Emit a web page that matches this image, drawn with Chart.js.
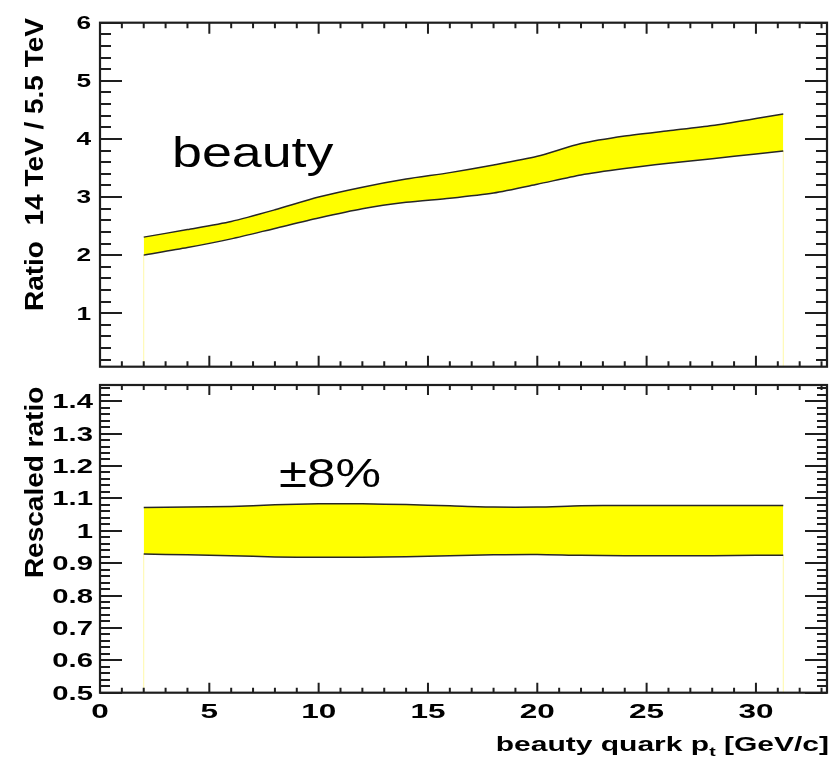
<!DOCTYPE html>
<html>
<head>
<meta charset="utf-8">
<title>beauty ratio 14 TeV / 5.5 TeV</title>
<script src="https://cdn.jsdelivr.net/npm/chart.js@4.4.0/dist/chart.umd.min.js"></script>
<style>
  html, body { margin: 0; padding: 0; background: #fff; }
  #wrap { position: relative; width: 835px; height: 759px; overflow: hidden; }
  #wrap canvas { position: absolute; left: 0; }
  #topPad { top: 0; }
  #bottomPad { top: 380px; }
</style>
</head>
<body>
<div id="wrap">
  <canvas id="topPad" width="835" height="380"></canvas>
  <canvas id="bottomPad" width="835" height="379"></canvas>
</div>
<script>
// pt values (GeV/c) where the band edges are sampled
const ptPoints = [2, 4, 6, 8, 10, 12, 14, 16, 18, 20, 22, 24, 26, 28, 30, 31.25];

// ratio 14 TeV / 5.5 TeV, lower and upper edge of the band
const ratioLow  = [2.00, 2.13, 2.28, 2.46, 2.64, 2.80, 2.91, 2.98, 3.07, 3.22, 3.38, 3.49, 3.58, 3.66, 3.74, 3.79];
const ratioHigh = [2.31, 2.44, 2.58, 2.78, 3.00, 3.17, 3.31, 3.42, 3.55, 3.70, 3.92, 4.05, 4.14, 4.23, 4.35, 4.43];

// same band divided by its centre
const rescaledLow  = [0.928, 0.926, 0.923, 0.919, 0.918, 0.918, 0.920, 0.923, 0.926, 0.927, 0.924, 0.923, 0.923, 0.923, 0.924, 0.924];
const rescaledHigh = [1.072, 1.073, 1.075, 1.080, 1.083, 1.083, 1.081, 1.077, 1.073, 1.073, 1.077, 1.078, 1.078, 1.078, 1.078, 1.078];

// axis labels
const xTicks = [0, 5, 10, 15, 20, 25, 30];
const ratioTicks = [1, 2, 3, 4, 5, 6];
const rescaledTicks = [0.5, 0.6, 0.7, 0.8, 0.9, 1, 1.1, 1.2, 1.3, 1.4];

const X_MAX = 33.25;
const FONT = '"Liberation Sans", Arial, Helvetica, sans-serif';
const EDGE = '#262626';
const BAND = '#ffff00';

// draw text squeezed/stretched along its own direction
function stretchText(ctx, text, x, y, o) {
  ctx.save();
  ctx.translate(x, y);
  if (o.rotate) ctx.rotate(o.rotate);
  ctx.scale(o.sx || 1, 1);
  ctx.font = o.font;
  ctx.fillStyle = o.color || '#000';
  ctx.textAlign = o.align || 'left';
  ctx.textBaseline = 'alphabetic';
  ctx.fillText(text, 0, 0);
  ctx.restore();
}

// frame with inward ticks on all four sides, labels and titles
const rootFrame = {
  id: 'rootFrame',
  afterDatasetsDraw(chart, args, o) {
    const { ctx, chartArea: a, scales: { x, y } } = chart;
    ctx.save();
    ctx.strokeStyle = '#1e1e1e';
    ctx.lineWidth = 2;
    ctx.beginPath();
    // x ticks every 1 GeV/c, long every 5
    for (let k = 0; k <= Math.floor(x.max); k++) {
      const px = x.getPixelForValue(k);
      const len = k % 5 === 0 ? o.xMajor : o.xMinor;
      ctx.moveTo(px, a.bottom); ctx.lineTo(px, a.bottom - len);
      ctx.moveTo(px, a.top); ctx.lineTo(px, a.top + len);
    }
    // y ticks
    const k0 = Math.ceil(y.min / o.yStep - 1e-6);
    const k1 = Math.floor(y.max / o.yStep + 1e-6);
    for (let k = k0; k <= k1; k++) {
      const py = Math.round(y.getPixelForValue(k * o.yStep));
      const len = k % o.yEvery === 0 ? o.yMajor : o.yMinor;
      ctx.moveTo(a.left, py); ctx.lineTo(a.left + len, py);
      ctx.moveTo(a.right, py); ctx.lineTo(a.right - len, py);
    }
    ctx.stroke();
    ctx.lineWidth = 2.2;
    ctx.strokeRect(a.left, a.top, a.right - a.left, a.bottom - a.top);
    ctx.restore();

    const boldTick = `bold ${o.yLabelSize}px ${FONT}`;
    o.yTicks.forEach(v => {
      stretchText(ctx, String(v), o.yLabelRight, y.getPixelForValue(v) + o.yLabelSize * 0.36,
        { font: boldTick, sx: 1.5, align: 'right' });
    });
    if (o.xLabels) {
      o.xLabels.forEach(v => {
        stretchText(ctx, String(v), x.getPixelForValue(v), o.xLabelBase,
          { font: `bold 21px ${FONT}`, sx: 1.5, align: 'center' });
      });
    }
    // rotated y title, ending at the top of the axis
    stretchText(ctx, o.yTitle, 43, o.yTitleEnd,
      { font: `bold 25px ${FONT}`, sx: 1.12, align: 'right', rotate: -Math.PI / 2 });

    if (o.xTitle) {
      const main = `bold 20px ${FONT}`, sub = `bold 13px ${FONT}`, sx = 1.5;
      const parts = [['beauty quark p', main, 0], ['t', sub, 5], [' [GeV/c]', main, 0]];
      ctx.save();
      const widths = parts.map(p => { ctx.font = p[1]; return ctx.measureText(p[0]).width * sx; });
      ctx.restore();
      let cx = o.xTitle.right - widths.reduce((s, w) => s + w, 0);
      parts.forEach((p, i) => {
        stretchText(ctx, p[0], cx, o.xTitle.base + p[2], { font: p[1], sx });
        cx += widths[i];
      });
    }
    if (o.note) {
      stretchText(ctx, o.note.text, o.note.x, o.note.y,
        { font: `${o.note.size}px ${FONT}`, sx: 1.28 });
    }
  }
};

function bandChart(canvasId, low, high, yMin, yMax, padding, frame) {
  const last = ptPoints.length - 1;
  const edge = arr => ({
    data: ptPoints.map((x, i) => ({ x, y: arr[i] })),
    borderColor: EDGE, borderWidth: 1.5, pointRadius: 0, tension: 0.25
  });
  const side = i => ({
    data: [{ x: ptPoints[i], y: yMin }, { x: ptPoints[i], y: low[i] }],
    borderColor: 'rgba(255,240,60,0.45)', borderWidth: 1, pointRadius: 0, fill: false
  });
  return new Chart(document.getElementById(canvasId), {
    type: 'line',
    data: {
      datasets: [
        Object.assign(edge(low), { fill: false }),
        Object.assign(edge(high), { fill: '-1', backgroundColor: BAND }),
        side(0),
        side(last)
      ]
    },
    options: {
      responsive: false,
      animation: false,
      events: [],
      layout: { padding },
      plugins: {
        legend: { display: false },
        tooltip: { enabled: false },
        filler: { drawTime: 'beforeDatasetsDraw' },
        rootFrame: frame
      },
      scales: {
        x: { type: 'linear', min: 0, max: X_MAX, display: false },
        y: { type: 'linear', min: yMin, max: yMax, display: false }
      }
    },
    plugins: [rootFrame]
  });
}

bandChart('topPad', ratioLow, ratioHigh, 0.08, 6,
  { left: 100, right: 8, top: 22.7, bottom: 13.3 },
  {
    yStep: 0.2, yEvery: 5, yMajor: 22, yMinor: 11, xMajor: 11, xMinor: 5.5,
    yTicks: ratioTicks, yLabelRight: 91, yLabelSize: 17.5,
    yTitle: 'Ratio  14 TeV / 5.5 TeV', yTitleEnd: 18,
    note: { text: 'beauty', x: 172, y: 166.5, size: 42 }
  });

bandChart('bottomPad', rescaledLow, rescaledHigh, 0.5, 1.45,
  { left: 100, right: 8, top: 5, bottom: 66.3 },
  {
    yStep: 0.02, yEvery: 5, yMajor: 22, yMinor: 10, xMajor: 10, xMinor: 5,
    yTicks: rescaledTicks, yLabelRight: 93, yLabelSize: 19.5,
    xLabels: xTicks, xLabelBase: 338,
    yTitle: 'Rescaled ratio', yTitleEnd: 6.7,
    xTitle: { right: 829, base: 371 },
    note: { text: '\u00b18%', x: 279, y: 107, size: 40 }
  });
</script>
</body>
</html>
